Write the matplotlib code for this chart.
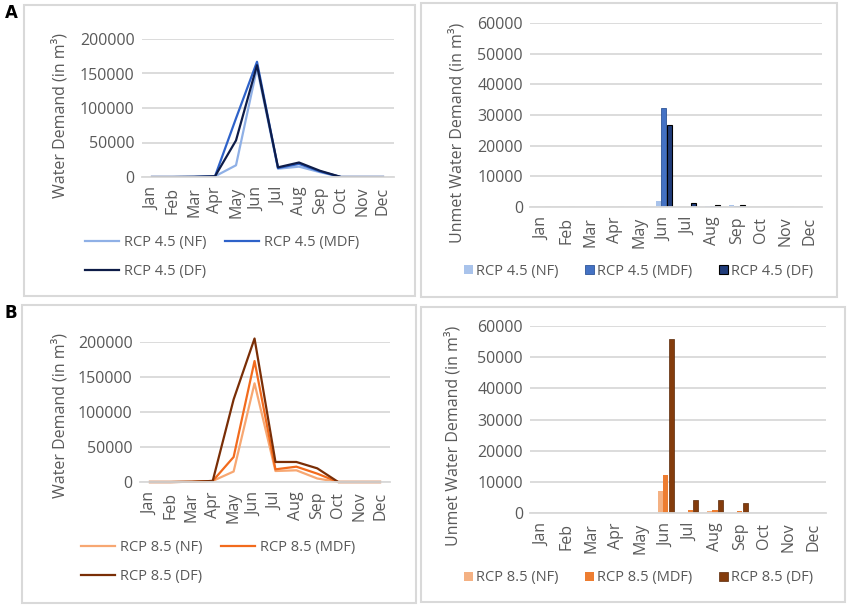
import numpy as np
import matplotlib
matplotlib.use("Agg")
import matplotlib.pyplot as plt
from matplotlib.patches import Rectangle

plt.rcParams['font.family'] = ['Open Sans', 'DejaVu Sans']

months = ['Jan', 'Feb', 'Mar', 'Apr', 'May', 'Jun', 'Jul', 'Aug', 'Sep', 'Oct', 'Nov', 'Dec']

# water demand (m3)
rcp45_nf = [0, 0, 200, 1000, 17000, 158000, 12000, 15000, 7000, 0, 0, 0]
rcp45_mdf = [0, 0, 200, 1000, 85000, 167000, 13000, 19000, 8000, 0, 0, 0]
rcp45_df = [0, 0, 200, 1000, 53000, 162000, 14000, 21000, 9000, 0, 0, 0]
rcp85_nf = [0, 0, 300, 1500, 15000, 141000, 15700, 16700, 5000, 0, 0, 0]
rcp85_mdf = [0, 0, 300, 1500, 35700, 172800, 18100, 21900, 11900, 0, 0, 0]
rcp85_df = [0, 0, 300, 1500, 118000, 205000, 28600, 28600, 19500, 0, 0, 0]

# unmet water demand (m3)
u45_nf = [0, 0, 0, 0, 0, 2000, 0, 400, 500, 0, 0, 0]
u45_mdf = [0, 0, 0, 0, 0, 32400, 0, 200, 300, 0, 0, 0]
u45_df = [0, 0, 0, 0, 0, 26900, 1400, 700, 800, 0, 0, 0]
u85_nf = [0, 0, 0, 0, 0, 7000, 0, 600, 0, 0, 0, 0]
u85_mdf = [0, 0, 0, 0, 0, 12100, 1100, 850, 500, 0, 0, 0]
u85_df = [0, 0, 0, 0, 0, 55900, 4300, 4300, 3200, 0, 0, 0]

W, H = 848, 606
TXT = '#595959'
GRID = '#D9D9D9'

fig = plt.figure(figsize=(W / 100, H / 100), dpi=100)


def px_axes(l, t, r, b):
    return fig.add_axes([l / W, 1 - b / H, (r - l) / W, (b - t) / H])


def frame(x0, y0, x1, y1):
    fig.add_artist(Rectangle((x0 / W, 1 - y1 / H), (x1 - x0) / W, (y1 - y0) / H,
                             transform=fig.transFigure, fill=False, ec=GRID, lw=1.5))


def style(ax, ymax, step):
    ax.set_xlim(-0.5, 11.5)
    ax.set_ylim(0, ymax)
    ax.set_yticks(np.arange(0, ymax + 1, step))
    ax.set_xticks(range(12))
    ax.set_xticklabels(months, rotation=90, va='top', ha='center')
    ax.tick_params(length=0, labelsize=11.5, colors=TXT, pad=5)
    ax.tick_params(axis='x', pad=7)
    ax.grid(axis='y', color=GRID, lw=1.3)
    ax.set_axisbelow(True)
    for s in ['top', 'right', 'left']:
        ax.spines[s].set_visible(False)
    ax.spines['bottom'].set_color(GRID)
    ax.spines['bottom'].set_linewidth(1.3)


def ylab(x, y, text):
    fig.text(x / W, 1 - y / H, text, rotation=90, ha='center', va='center',
             fontsize=11.5, color=TXT)


def line_legend(ax, x0, y0):
    h, l = ax.get_legend_handles_labels()
    order = [0, 2, 1]  # row-wise: NF, MDF / DF
    ax.legend([h[i] for i in order], [l[i] for i in order], loc='upper left',
              bbox_to_anchor=(x0 / W, 1 - y0 / H), bbox_transform=fig.transFigure,
              ncol=2, frameon=False, fontsize=10.5, labelcolor=TXT, handlelength=2.3,
              handletextpad=0.35, columnspacing=1.3, labelspacing=0.95, borderpad=0, borderaxespad=0)


def bar_legend(ax, x0, y0):
    ax.legend(loc='center left', bbox_to_anchor=(x0 / W, 1 - y0 / H), bbox_transform=fig.transFigure,
              ncol=3, frameon=False, fontsize=10.5, labelcolor=TXT, handlelength=0.6, handleheight=0.6,
              handletextpad=0.2, columnspacing=1.85, borderpad=0, borderaxespad=0)


frame(24, 5, 415, 296)
frame(421, 3, 837, 297)
frame(22, 305, 416, 603)
frame(421, 307, 845, 602)

fig.text(5 / W, 1 - 13 / H, 'A', fontsize=12, fontweight='bold', va='center', family='DejaVu Sans')
fig.text(5 / W, 1 - 313 / H, 'B', fontsize=12, fontweight='bold', va='center', family='DejaVu Sans')

x = np.arange(12)

# --- A left: lines RCP 4.5
ax1 = px_axes(141.5, 39, 393.5, 177)
style(ax1, 200000, 50000)
ax1.plot(x, rcp45_nf, color='#8FB0E6', lw=1.6, label='RCP 4.5 (NF)')
ax1.plot(x, rcp45_mdf, color='#2E62C9', lw=1.6, label='RCP 4.5 (MDF)')
ax1.plot(x, rcp45_df, color='#0E1C48', lw=1.6, label='RCP 4.5 (DF)')
ylab(60, 115, 'Water Demand (in m³)')
line_legend(ax1, 85, 235)

# --- A right: bars RCP 4.5
bw = 0.21
ax2 = px_axes(530, 23, 822, 207)
style(ax2, 60000, 10000)
ax2.bar(x - 0.22, u45_nf, bw, color='#A9C3EB', label='RCP 4.5 (NF)')
ax2.bar(x, u45_mdf, bw, color='#4472C4', ec='#2F5597', lw=0.6, label='RCP 4.5 (MDF)')
ax2.bar(x + 0.22, u45_df, bw, color='#203C7A', ec='black', lw=0.8, label='RCP 4.5 (DF)')
ylab(457, 133, 'Unmet Water Demand (in m³)')
bar_legend(ax2, 464, 271)

# --- B left: lines RCP 8.5
ax3 = px_axes(139.5, 342, 390.5, 482)
style(ax3, 200000, 50000)
ax3.plot(x, rcp85_nf, color='#F7A772', lw=1.6, label='RCP 8.5 (NF)', clip_on=False)
ax3.plot(x, rcp85_mdf, color='#F26B1D', lw=1.6, label='RCP 8.5 (MDF)', clip_on=False)
ax3.plot(x, rcp85_df, color='#7A2E06', lw=1.6, label='RCP 8.5 (DF)', clip_on=False)
ylab(60, 416, 'Water Demand (in m³)')
line_legend(ax3, 81, 540)

# --- B right: bars RCP 8.5
ax4 = px_axes(530, 326, 826, 513)
style(ax4, 60000, 10000)
ax4.bar(x - 0.22, u85_nf, bw, color='#F4B183', label='RCP 8.5 (NF)')
ax4.bar(x, u85_mdf, bw, color='#ED7D31', label='RCP 8.5 (MDF)')
ax4.bar(x + 0.22, u85_df, bw, color='#843C0C', ec='#5A2808', lw=0.5, label='RCP 8.5 (DF)')
ylab(453, 436, 'Unmet Water Demand (in m³)')
bar_legend(ax4, 464, 578)

fig.savefig('out.png', dpi=100, facecolor='white')
